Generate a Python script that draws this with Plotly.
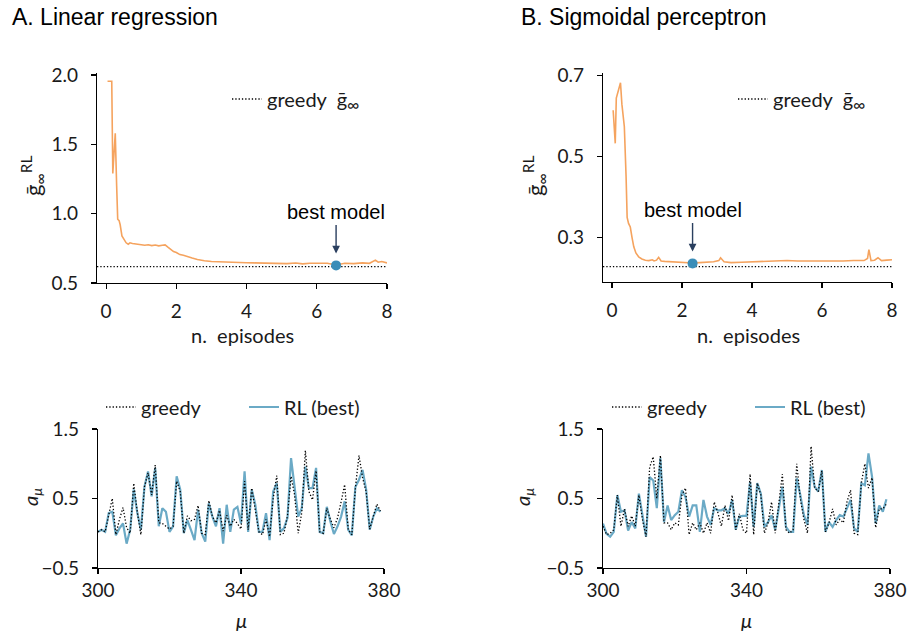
import plotly.graph_objects as go

# ---------------- data ----------------
# A. Linear regression: training curve
lin_ep = [0.04, 0.10, 0.16, 0.19, 0.22, 0.26, 0.30, 0.33, 0.37, 0.40, 0.45, 0.50, 0.57, 0.63, 0.68,
          0.75, 0.85, 0.97, 1.10, 1.20, 1.30, 1.40, 1.50, 1.60, 1.68, 1.75, 1.85, 1.92, 2.00, 2.10,
          2.20, 2.30, 2.45, 2.60, 2.68, 2.80, 3.00, 3.25, 3.50, 3.75, 4.00, 4.20, 4.50, 4.75, 5.00,
          5.15, 5.40, 5.60, 5.80, 6.10, 6.30, 6.55, 6.80, 7.05, 7.30, 7.50, 7.67, 7.75, 7.85, 8.00]
lin_g = [1.955, 1.955, 1.955, 1.29, 1.40, 1.58, 1.20, 0.96, 0.95, 0.92, 0.84, 0.82, 0.79, 0.78, 0.79,
         0.785, 0.78, 0.775, 0.772, 0.776, 0.770, 0.774, 0.768, 0.772, 0.775, 0.760, 0.740, 0.727, 0.720, 0.705,
         0.700, 0.690, 0.680, 0.670, 0.665, 0.660, 0.655, 0.652, 0.648, 0.650, 0.646, 0.645, 0.643, 0.646, 0.641,
         0.640, 0.644, 0.638, 0.642, 0.640, 0.643, 0.630, 0.642, 0.640, 0.645, 0.642, 0.665, 0.650, 0.655, 0.645]
lin_greedy = 0.618
lin_best_x = [6.55]
lin_best_y = [0.627]

# B. Sigmoidal perceptron: training curve
sig_ep = [0.03, 0.09, 0.12, 0.15, 0.20, 0.24, 0.28, 0.35, 0.40, 0.43, 0.47, 0.52, 0.57, 0.62, 0.68,
          0.76, 0.85, 0.95, 1.05, 1.15, 1.20, 1.27, 1.33, 1.40, 1.50, 1.70, 1.90, 2.10, 2.30, 2.50,
          2.70, 2.90, 3.05, 3.10, 3.20, 3.40, 3.70, 4.00, 4.30, 4.60, 5.00, 5.30, 5.60, 6.00, 6.30,
          6.60, 6.90, 7.20, 7.30, 7.34, 7.40, 7.50, 7.60, 7.70, 7.85, 8.00]
sig_g = [0.615, 0.533, 0.645, 0.655, 0.665, 0.683, 0.630, 0.574, 0.45, 0.350, 0.335, 0.326, 0.300, 0.277, 0.262,
         0.252, 0.247, 0.244, 0.243, 0.245, 0.242, 0.244, 0.251, 0.242, 0.241, 0.240, 0.239, 0.238, 0.237, 0.238,
         0.239, 0.240, 0.243, 0.250, 0.240, 0.238, 0.239, 0.240, 0.241, 0.242, 0.243, 0.242, 0.242, 0.242, 0.241,
         0.242, 0.243, 0.243, 0.248, 0.270, 0.243, 0.244, 0.250, 0.243, 0.244, 0.245]
sig_greedy = 0.228
sig_best_x = [2.30]
sig_best_y = [0.236]

# bottom panels: actions a_mu
mu = list(range(300, 380))
lin_a_greedy = [0.02, 0.05, 0.02, 0.25, 0.50, -0.02, 0.20, 0.37, 0.08, 0.00,
                0.72, 0.30, -0.02, 0.67, 0.87, 0.55, 0.98, 0.15, 0.14, 0.10,
                0.06, 0.10, 0.75, 0.60, 0.00, 0.25, 0.18, 0.20, 0.40, 0.00,
                -0.02, 0.47, 0.24, 0.15, 0.33, 0.03, 0.26, 0.10, 0.20, 0.14,
                0.06, 0.75, 0.05, 0.65, 0.30, 0.02, -0.02, 0.20, -0.05, 0.50,
                0.83, -0.02, 0.00, 0.25, 0.82, 0.55, 0.00, 0.30, 1.19, 0.60,
                0.48, 0.90, 0.02, 0.00, 0.36, 0.20, 0.08, 0.22, 0.45, 0.70,
                0.05, -0.02, 0.65, 1.12, 0.80, 0.60, 0.06, 0.25, 0.42, 0.32]
lin_a_rl = [0.02, 0.05, 0.02, 0.29, 0.31, -0.03, 0.07, 0.14, -0.15, 0.05,
            0.63, 0.29, 0.05, 0.67, 0.89, 0.53, 0.94, 0.10, 0.36, 0.31,
            0.02, 0.10, 0.82, 0.63, 0.00, 0.19, 0.05, -0.10, 0.34, 0.00,
            -0.12, 0.43, 0.24, 0.10, 0.36, -0.15, 0.41, 0.02, 0.34, 0.38,
            0.14, 0.89, 0.02, 0.63, 0.41, 0.02, 0.02, 0.29, -0.10, 0.60,
            0.72, 0.02, 0.07, 0.22, 1.08, 0.63, 0.24, 0.36, 0.96, 0.65,
            0.65, 0.94, 0.02, 0.00, 0.38, 0.17, -0.01, 0.10, 0.24, 0.46,
            0.05, -0.03, 0.67, 0.77, 0.91, 0.63, 0.05, 0.24, 0.36, 0.31]
sig_a_greedy = [0.10, -0.02, 0.00, 0.05, 0.55, 0.10, 0.35, 0.10, 0.25, 0.10,
                0.55, 0.20, -0.05, 0.95, 1.10, 0.50, 1.12, 0.15, 0.15, 0.05,
                0.15, 0.12, 0.55, 0.65, -0.02, 0.15, 0.05, 0.15, 0.00, 0.15,
                0.00, 0.45, 0.30, 0.10, 0.40, 0.18, 0.55, 0.05, 0.28, 0.05,
                0.00, 0.85, -0.02, 0.72, 0.55, 0.00, 0.15, 0.45, 0.00, 0.40,
                0.85, 0.05, 0.00, 0.05, 1.00, 0.50, 0.20, 0.00, 1.25, 0.65,
                0.60, 0.90, 0.02, 0.15, 0.35, 0.12, 0.20, 0.15, 0.45, 0.62,
                0.00, -0.02, 0.72, 1.00, 0.65, 0.80, 0.08, 0.35, 0.35, 0.42]
sig_a_rl = [0.14, -0.01, -0.05, 0.02, 0.55, 0.31, 0.33, 0.04, 0.16, 0.07,
            0.57, 0.28, -0.05, 0.81, 0.76, 0.36, 1.08, 0.16, 0.40, 0.19,
            0.26, 0.31, 0.62, 0.52, 0.24, 0.40, 0.40, 0.02, 0.48, 0.24,
            0.12, 0.36, 0.33, 0.33, 0.36, 0.28, 0.48, 0.05, 0.24, 0.25,
            0.25, 0.74, 0.09, 0.72, 0.57, 0.09, 0.16, 0.26, 0.05, 0.36,
            0.67, 0.09, 0.02, 0.02, 0.79, 0.55, 0.26, 0.12, 0.96, 0.67,
            0.60, 0.91, 0.02, 0.16, 0.09, 0.19, 0.26, 0.24, 0.36, 0.48,
            0.07, 0.02, 0.72, 0.69, 1.15, 0.81, 0.14, 0.40, 0.31, 0.49]

ep_ticks = [0, 2, 4, 6, 8]
lin_yticks = [0.5, 1.0, 1.5, 2.0]
sig_yticks = [0.3, 0.5, 0.7]
mu_ticks = [300, 340, 380]
a_ticks = [-0.5, 0.5, 1.5]

# ---------------- style ----------------
ORANGE = "#F5A35E"
DOT = "#3A8DB8"
RLBLUE = "#6BAAC6"
SANS = "Lato, Liberation Sans, sans-serif"
HELV = "Liberation Sans, Arial, sans-serif"
TICKFONT = dict(family=SANS, size=19, color="#1a1a1a")
LABFONT = dict(family=SANS, size=20, color="#1a1a1a")
DOTTED = "1.3px,2px"
W, H = 908, 634

def px(x):
    return x / W

def py(y):
    return 1 - y / H

fig = go.Figure()

ep_range = [-0.26, 8]
# top-left
fig.add_trace(go.Scatter(x=lin_ep, y=lin_g, mode="lines", line=dict(color=ORANGE, width=1.6),
                         showlegend=False, xaxis="x", yaxis="y"))
fig.add_trace(go.Scatter(x=ep_range, y=[lin_greedy, lin_greedy], mode="lines",
                         line=dict(color="black", width=1.3, dash=DOTTED),
                         name="greedy  ḡ<sub><span style='font-size:17px'>∞</span></sub>",
                         legend="legend", xaxis="x", yaxis="y"))
fig.add_trace(go.Scatter(x=lin_best_x, y=lin_best_y, mode="markers",
                         marker=dict(color=DOT, size=10), showlegend=False, xaxis="x", yaxis="y"))
# top-right
fig.add_trace(go.Scatter(x=sig_ep, y=sig_g, mode="lines", line=dict(color=ORANGE, width=1.6),
                         showlegend=False, xaxis="x2", yaxis="y2"))
fig.add_trace(go.Scatter(x=ep_range, y=[sig_greedy, sig_greedy], mode="lines",
                         line=dict(color="black", width=1.3, dash=DOTTED),
                         name="greedy  ḡ<sub><span style='font-size:17px'>∞</span></sub>",
                         legend="legend2", xaxis="x2", yaxis="y2"))
fig.add_trace(go.Scatter(x=sig_best_x, y=sig_best_y, mode="markers",
                         marker=dict(color=DOT, size=10), showlegend=False, xaxis="x2", yaxis="y2"))
# bottom-left
fig.add_trace(go.Scatter(x=mu, y=lin_a_rl, mode="lines", line=dict(color=RLBLUE, width=2.2),
                         name="RL (best)", legend="legend3", xaxis="x3", yaxis="y3", legendrank=2))
fig.add_trace(go.Scatter(x=mu, y=lin_a_greedy, mode="lines",
                         line=dict(color="black", width=1.3, dash=DOTTED),
                         name="greedy", legend="legend3", xaxis="x3", yaxis="y3", legendrank=1))
# bottom-right
fig.add_trace(go.Scatter(x=mu, y=sig_a_rl, mode="lines", line=dict(color=RLBLUE, width=2.2),
                         name="RL (best)", legend="legend4", xaxis="x4", yaxis="y4", legendrank=2))
fig.add_trace(go.Scatter(x=mu, y=sig_a_greedy, mode="lines",
                         line=dict(color="black", width=1.3, dash=DOTTED),
                         name="greedy", legend="legend4", xaxis="x4", yaxis="y4", legendrank=1))

axis_common = dict(showline=True, linecolor="black", linewidth=1.2, ticks="outside", ticklen=5,
                   tickwidth=1.2, tickcolor="black", showgrid=False, zeroline=False,
                   tickfont=TICKFONT, mirror=False, automargin=False)

fig.update_layout(
    width=W, height=H, margin=dict(l=0, r=0, t=0, b=0, pad=0, autoexpand=False),
    plot_bgcolor="white", paper_bgcolor="white",
    xaxis=dict(domain=[px(97), px(387)], range=ep_range, tickvals=ep_ticks, anchor="y",
               ticklabelstandoff=6, **axis_common),
    yaxis=dict(domain=[py(283), py(73)], range=[0.5, 2.015], tickvals=lin_yticks, tickformat=".1f",
               anchor="x", ticklabelstandoff=9, **axis_common),
    xaxis2=dict(domain=[px(603), px(892)], range=ep_range, tickvals=ep_ticks, anchor="y2",
                ticklabelstandoff=6, **axis_common),
    yaxis2=dict(domain=[py(282), py(73)], range=[0.19, 0.707], tickvals=sig_yticks, tickformat=".1f",
                anchor="x2", ticklabelstandoff=9, **axis_common),
    xaxis3=dict(domain=[px(98), px(384)], range=[300, 380], tickvals=mu_ticks, anchor="y3",
                **axis_common),
    yaxis3=dict(domain=[py(568), py(429)], range=[-0.5, 1.5], tickvals=a_ticks, tickformat=".1f",
                anchor="x3", ticklabelstandoff=9, **axis_common),
    xaxis4=dict(domain=[px(603), px(890)], range=[300, 380], tickvals=mu_ticks, anchor="y4",
                **axis_common),
    yaxis4=dict(domain=[py(568), py(429)], range=[-0.5, 1.5], tickvals=a_ticks, tickformat=".1f",
                anchor="x4", ticklabelstandoff=9, **axis_common),
    legend=dict(x=px(227), y=py(99), xanchor="left", yanchor="middle", bgcolor="rgba(0,0,0,0)",
                font=LABFONT),
    legend2=dict(x=px(733), y=py(99), xanchor="left", yanchor="middle", bgcolor="rgba(0,0,0,0)",
                 font=LABFONT),
    legend3=dict(x=px(101), y=py(407), xanchor="left", yanchor="middle", orientation="h",
                 bgcolor="rgba(0,0,0,0)", font=LABFONT, entrywidth=98, traceorder="normal"),
    legend4=dict(x=px(607), y=py(407), xanchor="left", yanchor="middle", orientation="h",
                 bgcolor="rgba(0,0,0,0)", font=LABFONT, entrywidth=98, traceorder="normal"),
)

def label(text, x, y, angle=0, size=20):
    return dict(text=text, x=px(x), y=py(y), xref="paper", yref="paper", xanchor="center",
                yanchor="middle", showarrow=False, textangle=angle,
                font=dict(family=SANS, size=size, color="#1a1a1a"))

gl_title = "ḡ<sub>∞</sub><sup>RL</sup>"
annos = [
    dict(text="A. Linear regression", x=px(10), y=py(17), xref="paper", yref="paper",
         xanchor="left", yanchor="middle", showarrow=False,
         font=dict(family=HELV, size=23, color="black")),
    dict(text="B. Sigmoidal perceptron", x=px(519), y=py(17), xref="paper", yref="paper",
         xanchor="left", yanchor="middle", showarrow=False,
         font=dict(family=HELV, size=23, color="black")),
    dict(text="best model", x=lin_best_x[0], y=lin_best_y[0], xref="x", yref="y",
         ax=0, ay=-53, showarrow=True, arrowhead=2, arrowsize=1.1, arrowwidth=1.4,
         standoff=12, font=dict(family=HELV, size=20, color="black")),
    dict(text="best model", x=sig_best_x[0], y=sig_best_y[0], xref="x2", yref="y2",
         ax=0, ay=-53, showarrow=True, arrowhead=2, arrowsize=1.1, arrowwidth=1.4,
         standoff=12, font=dict(family=HELV, size=20, color="black")),
    label("n.  episodes", 242, 335),
    label("n.  episodes", 748, 335),
    label("<i>μ</i>", 241, 620),
    label("<i>μ</i>", 746, 620),
    label(gl_title, 33, 176, angle=-90, size=22),
    label(gl_title, 535, 176, angle=-90, size=22),
    label("<i>a<sub>μ</sub></i>", 31, 497, angle=-90),
    label("<i>a<sub>μ</sub></i>", 523, 497, angle=-90),
]
fig.update_layout(annotations=annos)

fig.write_html("out.html", config={"displayModeBar": False, "staticPlot": True},
               post_script="document.body.style.margin='0';document.body.style.overflow='hidden';")
